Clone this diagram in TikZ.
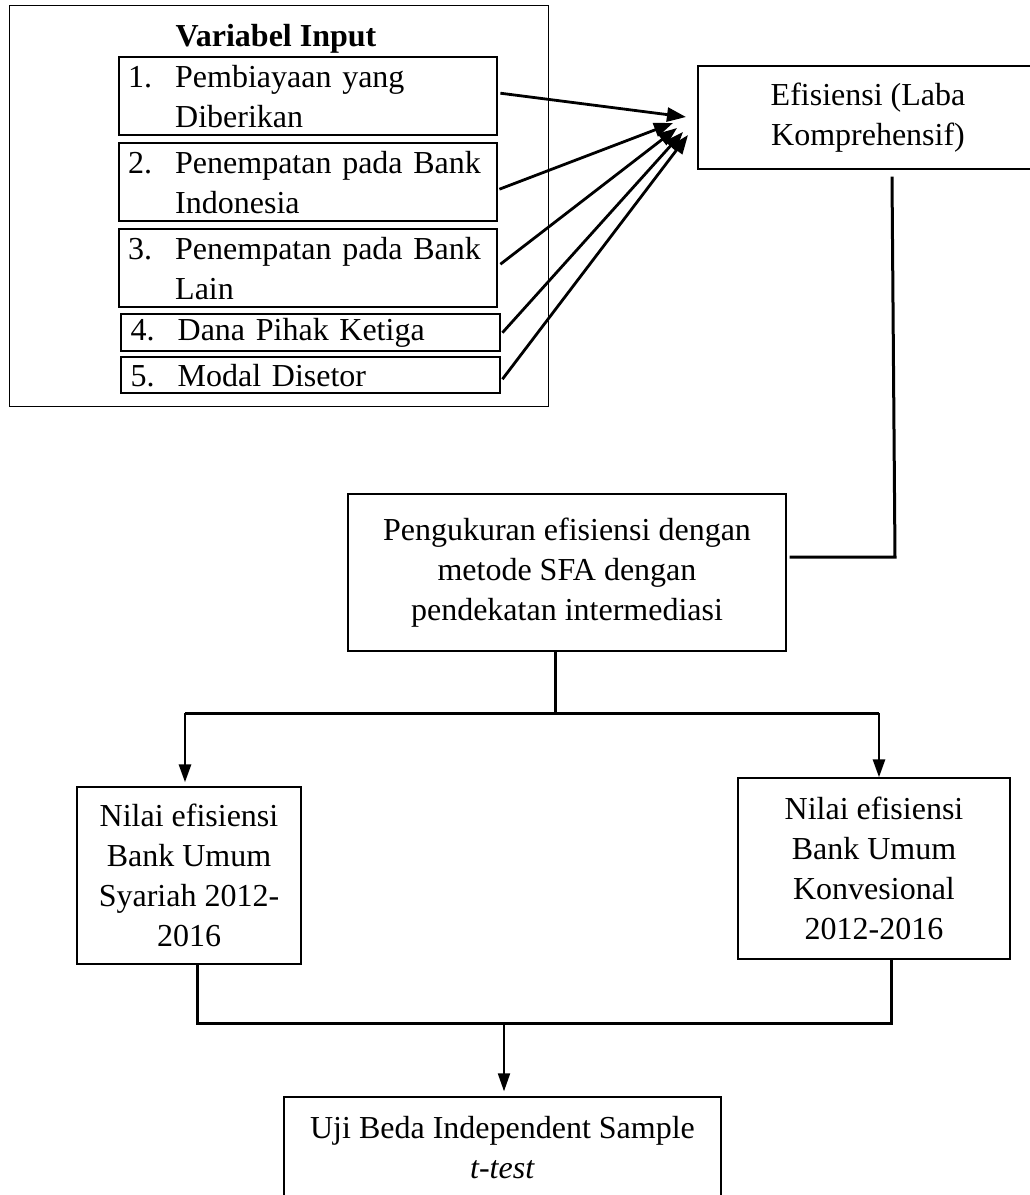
\documentclass[tikz,border=0pt]{standalone}
\usepackage{fontspec}
\setmainfont{Liberation Serif}
\usetikzlibrary{arrows.meta}
\begin{document}
\begin{tikzpicture}[x=1pt,y=-1pt,
  every node/.style={font=\fontsize{32}{40}\selectfont},
  ibox/.style={draw, line width=2.4pt, minimum width=378pt, text width=360pt, inner xsep=9pt, inner ysep=0pt, align=left, anchor=north west},
  mbox/.style={draw, line width=1.3pt, align=center, inner sep=0pt},
  conn/.style={line width=3pt},
  arr/.style={line width=2.8pt, -{Triangle[length=19pt,width=14pt]}},
  darr/.style={line width=2.8pt, -{Triangle[length=18pt,width=12pt]}}]
\useasboundingbox (0,0) rectangle (1030,1195);
\clip (0,0) rectangle (1030,1195);
\fill[white] (0,0) rectangle (1030,1195);

% input group
\node[draw, line width=1.3pt, minimum width=539pt, minimum height=401pt, anchor=north west, inner sep=0pt] (outer) at (9,5) {};
\node[font=\fontsize{32}{40}\selectfont\bfseries] (title) at (276,39) {Variabel Input};
\node[ibox, minimum height=78pt] (b1) at (118,56) {\makebox[47pt][l]{1.}Pembiayaan yang\\\hspace*{47pt}Diberikan};
\node[ibox, minimum height=78pt] (b2) at (118,142) {\makebox[47pt][l]{2.}Penempatan pada Bank\\\hspace*{47pt}Indonesia};
\node[ibox, minimum height=78pt] (b3) at (118,228) {\makebox[47pt][l]{3.}Penempatan pada Bank\\\hspace*{47pt}Lain};
\node[ibox, minimum height=37pt, minimum width=379pt, inner xsep=7pt] (b4) at (120,313) {\makebox[47pt][l]{4.}Dana Pihak Ketiga};
\node[ibox, minimum height=36pt, minimum width=379pt, inner xsep=7pt] (b5) at (120,356) {\makebox[47pt][l]{5.}Modal Disetor};

% main boxes
\node[mbox, minimum width=340pt, minimum height=103pt] (eff) at (868,117.5) {Efisiensi (Laba\\Komprehensif)};
\node[mbox, minimum width=438pt, minimum height=157pt] (pen) at (567,572.5) {Pengukuran efisiensi dengan\\metode SFA dengan\\pendekatan intermediasi};
\node[mbox, minimum width=224pt, minimum height=177pt] (lbox) at (189,875.5) {Nilai efisiensi\\Bank Umum\\Syariah 2012-\\2016};
\node[mbox, minimum width=272pt, minimum height=181pt] (rbox) at (874,868.5) {Nilai efisiensi\\Bank Umum\\Konvesional\\2012-2016};
\node[mbox, minimum width=437pt, minimum height=102pt] (bbox) at (502.5,1148) {Uji Beda Independent Sample\\\textit{t-test}};

% arrows from inputs
\coordinate (t1) at (686,117);
\coordinate (t2) at (673,123);
\coordinate (t3) at (677,128);
\coordinate (t4) at (683,132);
\coordinate (t5) at (688,135);
\draw[arr] ([xshift=2pt,yshift=3pt]b1.east) -- (t1);
\draw[arr] ([xshift=1pt,yshift=-7pt]b2.east) -- (t2);
\draw[arr] ([xshift=2pt,yshift=4pt]b3.east) -- (t3);
\draw[arr] ([xshift=1pt]b4.east) -- (t4);
\draw[arr] ([xshift=1pt,yshift=-4pt]b5.east) -- (t5);

% efisiensi to pengukuran
\coordinate (e2) at (895,557);
\draw[conn] ([xshift=24pt,yshift=-7pt]eff.south) -- (e2) -- ([xshift=3pt]pen.east |- e2);

% pengukuran split
\coordinate (j0) at (555,713);
\coordinate (jl) at (185,713);
\coordinate (jr) at (879,713);
\draw[conn] ([xshift=-12pt]pen.south) -- (j0);
\draw[conn] (jl) -- (jr);
\draw[darr] (jl) -- ([yshift=4pt]jl |- lbox.north);
\draw[darr] (jr) -- (jr |- rbox.north);

% merge to t-test
\coordinate (kl) at (197,1023);
\coordinate (kr) at (891,1023);
\coordinate (km) at (504,1023);
\draw[conn] ([xshift=8pt]lbox.south) -- (kl) -- (kr) -- ([xshift=17pt]rbox.south);
\draw[line width=2pt, -{Triangle[length=18pt,width=12pt]}] (km) -- ([yshift=5pt]km |- bbox.north);
\end{tikzpicture}
\end{document}
